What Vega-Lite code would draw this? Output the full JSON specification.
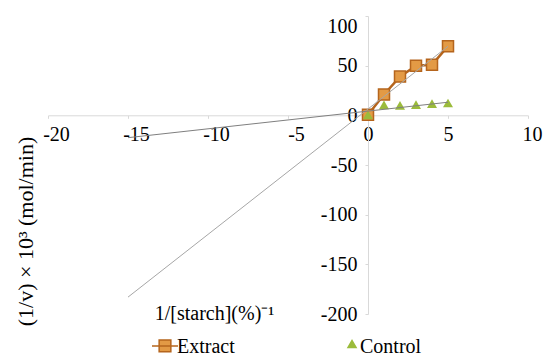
{
  "$schema": "https://vega.github.io/schema/vega-lite/v6.json",
  "width": 480,
  "height": 298,
  "autosize": "none",
  "padding": {"left": 48, "top": 16, "right": 17, "bottom": 43},
  "config": {
    "view": {"stroke": null},
    "font": "Liberation Serif",
    "axis": {
      "grid": false,
      "domainColor": "#d9d9d9",
      "tickColor": "#d9d9d9",
      "tickSize": 3,
      "labelColor": "#000000",
      "labelFont": "Liberation Serif",
      "labelFontSize": 20,
      "titleFont": "Liberation Serif",
      "titleFontSize": 20,
      "titleFontWeight": "normal",
      "titleColor": "#000000"
    }
  },
  "datasets": {
    "pts": [
      {"x": 0, "y": 0.5, "series": "Extract"},
      {"x": 1, "y": 21, "series": "Extract"},
      {"x": 2, "y": 39, "series": "Extract"},
      {"x": 3, "y": 50, "series": "Extract"},
      {"x": 4, "y": 51, "series": "Extract"},
      {"x": 5, "y": 69.5, "series": "Extract"},
      {"x": 0, "y": 0.5, "series": "Control"},
      {"x": 1, "y": 10.5, "series": "Control"},
      {"x": 2, "y": 10, "series": "Control"},
      {"x": 3, "y": 10.8, "series": "Control"},
      {"x": 4, "y": 11.8, "series": "Control"},
      {"x": 5, "y": 12.4, "series": "Control"}
    ],
    "trend": [
      {"x": -15, "y": -183, "line": "Extract"},
      {"x": 5, "y": 69.5, "line": "Extract"},
      {"x": -15, "y": -22.5, "line": "Control"},
      {"x": 5, "y": 13.2, "line": "Control"}
    ]
  },
  "encoding": {
    "x": {
      "field": "x",
      "type": "quantitative",
      "scale": {"domain": [-20, 10], "nice": false, "zero": false},
      "axis": {
        "orient": "bottom",
        "offset": -198.7,
        "values": [-20, -15, -10, -5, 0, 5, 10],
        "labelFlush": false,
        "labelOverlap": false,
        "labelPadding": 6,
        "labelExpr": "replace(datum.label, '−', '-')",
        "labelOffset": {"condition": [{"test": "datum.value < 0", "value": 8}, {"test": "datum.value == 10", "value": 4}], "value": 0},
        "title": "1/[starch](%)⁻¹",
        "titleX": 166,
        "titleY": 198.5,
        "titleBaseline": "middle",
        "titleAnchor": "middle"
      }
    },
    "y": {
      "field": "y",
      "type": "quantitative",
      "scale": {"domain": [-200, 100], "nice": false, "zero": false},
      "axis": {
        "orient": "left",
        "offset": -320,
        "values": [-200, -150, -100, -50, 0, 50, 100],
        "labelOverlap": false,
        "labelFlush": false,
        "labelPadding": 8,
        "labelBaseline": {"condition": {"test": "datum.value == 100", "value": "top"}, "value": "middle"},
        "labelExpr": "replace(datum.label, '−', '-')",
        "title": "(1/v) × 10³ (mol/min)",
        "titleFontSize": 22,
        "titleX": -343,
        "titleY": 215,
        "titleAngle": 270,
        "titleBaseline": "middle",
        "titleAnchor": "middle"
      }
    }
  },
  "layer": [
    {
      "data": {"name": "pts"},
      "transform": [{"filter": "datum.series === 'Extract'"}],
      "mark": {"type": "line", "color": "#B5651D", "strokeWidth": 2.5}
    },
    {
      "data": {"name": "pts"},
      "transform": [{"filter": "datum.series === 'Extract'"}],
      "mark": {"type": "point", "shape": "square", "filled": true, "opacity": 1, "fill": "#E39A45", "stroke": "#B5651D", "strokeWidth": 1.5, "size": 121}
    },
    {
      "data": {"name": "pts"},
      "transform": [{"filter": "datum.series === 'Control'"}],
      "mark": {"type": "point", "shape": "triangle-up", "filled": true, "opacity": 1, "fill": "#9BBB3B", "strokeWidth": 0, "size": 100}
    },
    {
      "data": {"name": "pts"},
      "transform": [{"filter": "false"}],
      "mark": {"type": "point", "opacity": 1, "strokeWidth": 1.5},
      "encoding": {
        "fill": {
          "field": "series",
          "type": "nominal",
          "scale": {"domain": ["Extract", "Control"], "range": ["#E39A45", "#9BBB3B"]},
          "legend": {
            "orient": "none",
            "legendX": 103,
            "legendY": 317,
            "direction": "horizontal",
            "title": null,
            "padding": 0,
            "labelFontSize": 20,
            "labelFont": "Liberation Serif",
            "labelColor": "#000000",
            "labelOffset": -2,
            "columnPadding": 99,
            "symbolSize": 676,
            "symbolStrokeWidth": 1.5,
            "symbolOpacity": 1
          }
        },
        "stroke": {
          "field": "series",
          "type": "nominal",
          "scale": {"domain": ["Extract", "Control"], "range": ["#B5651D", "#9BBB3B"]}
        },
        "shape": {
          "field": "series",
          "type": "nominal",
          "scale": {"domain": ["Extract", "Control"], "range": ["M-1,-0.08H1M-0.45,-0.53H0.45V0.37H-0.45Z", "M0.31,-0.5L0.62,0.04H0Z"]}
        }
      }
    },
    {
      "data": {"name": "trend"},
      "mark": {"type": "line", "strokeWidth": 1},
      "encoding": {
        "detail": {"field": "line", "type": "nominal"},
        "stroke": {"condition": {"test": "datum.line === 'Extract'", "value": "#a6a6a6"}, "value": "#7f7f7f"}
      }
    }
  ]
}
